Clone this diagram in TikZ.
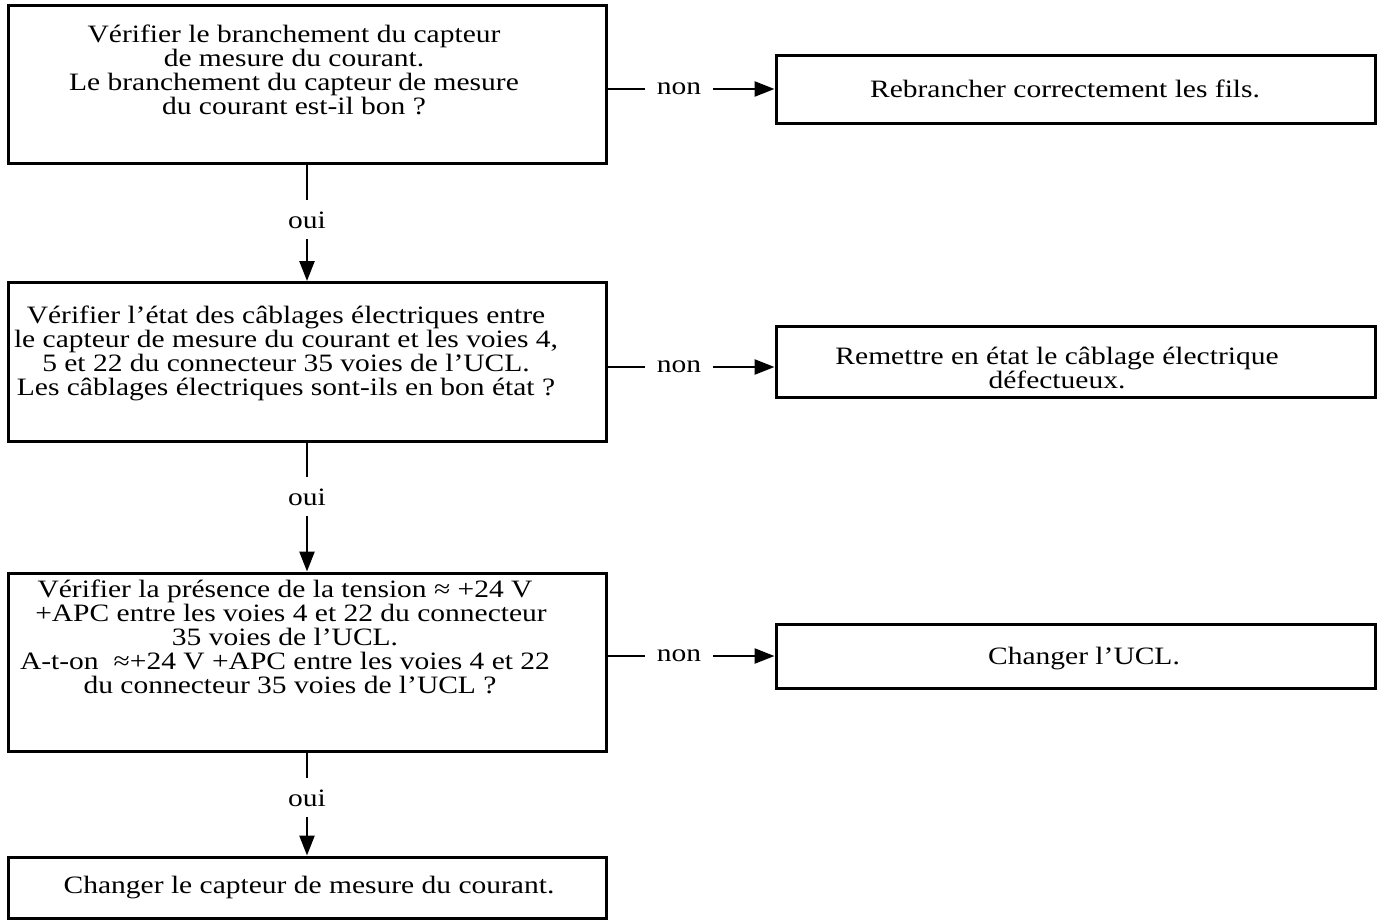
\documentclass[tikz,border=0pt]{standalone}
\usepackage{fontspec}
\setmainfont{Liberation Serif}[FakeStretch=1.18]
\usetikzlibrary{arrows.meta}
\begin{document}
\begin{tikzpicture}[x=1pt,y=-1pt,
  box/.style={draw, line width=3pt, inner sep=0pt},
  txt/.style={align=center, font=\fontsize{25}{24}\selectfont, inner sep=0pt},
  lbl/.style={font=\fontsize{25}{24}\selectfont, inner xsep=12pt, inner ysep=11pt},
  conn/.style={line width=2.5pt},
  arr/.style={conn, -{Triangle[length=20pt,width=15pt]}}]
\useasboundingbox (0,0) rectangle (1383,922);
% left column boxes
\node[box, minimum width=598pt, minimum height=158pt] (b1) at (307,84.5) {};
\node[box, minimum width=598pt, minimum height=159pt] (b2) at (307,362) {};
\node[box, minimum width=598pt, minimum height=178pt] (b3) at (307,662) {};
\node[box, minimum width=598pt, minimum height=61pt] (b4) at (307,887.5) {};
% right column boxes
\node[box, minimum width=599pt, minimum height=68pt] (r1) at (1075.5,89) {};
\node[box, minimum width=599pt, minimum height=71pt] (r2) at (1075.5,362) {};
\node[box, minimum width=599pt, minimum height=64pt] (r3) at (1075.5,656) {};
% texts (base anchor = baseline of last line)
\node[txt, anchor=base] (t1) at (294,114) {Vérifier le branchement du capteur\\ de mesure du courant.\\ Le branchement du capteur de mesure\\ du courant est-il bon ?};
\node[txt, anchor=base] (t2) at (286,395) {Vérifier l’état des câblages électriques entre\\ le capteur de mesure du courant et les voies 4,\\ 5 et 22 du connecteur 35 voies de l’UCL.\\ Les câblages électriques sont-ils en bon état ?};
\node[txt, anchor=base] (t3) at (285,693) {Vérifier la présence de la tension ≈ +24 V\\ \hspace*{12pt}+APC entre les voies 4 et 22 du connecteur\\ 35 voies de l’UCL.\hspace*{8pt}\\ A-t-on\hspace{0.6em}≈+24 V +APC entre les voies 4 et 22\hspace*{26pt}\\ \hspace*{10pt}du connecteur 35 voies de l’UCL ?};
\node[txt, anchor=base] (t4) at (309,893) {Changer le capteur de mesure du courant.};
\node[txt, anchor=base] (s1) at (1065,97) {Rebrancher correctement les fils.};
\node[txt, anchor=base] (s2) at (1057,388) {Remettre en état le câblage électrique\\ défectueux.};
\node[txt, anchor=base] (s3) at (1084,664) {Changer l’UCL.};
% labels
\node[lbl, anchor=base] (o1) at (307,228) {oui};
\node[lbl, anchor=base] (o2) at (307,505) {oui};
\node[lbl, anchor=base] (o3) at (307,806) {oui};
\node[lbl] (n1) at (679,89) {non};
\node[lbl] (n2) at (679,367) {non};
\node[lbl] (n3) at (679,656) {non};
% connectors
\draw[conn] (b1.south) -- (o1.north);
\draw[arr] (o1.south) -- (b2.north);
\draw[conn] (b2.south) -- (o2.north);
\draw[arr] (o2.south) -- (b3.north);
\draw[conn] (b3.south) -- (o3.north);
\draw[arr] (o3.south) -- (b4.north);
\draw[conn] (n1.west -| b1.east) -- (n1.west);
\draw[arr] (n1.east) -- (n1.east -| r1.west);
\draw[conn] (n2.west -| b2.east) -- (n2.west);
\draw[arr] (n2.east) -- (n2.east -| r2.west);
\draw[conn] (n3.west -| b3.east) -- (n3.west);
\draw[arr] (n3.east) -- (n3.east -| r3.west);
\end{tikzpicture}
\end{document}
